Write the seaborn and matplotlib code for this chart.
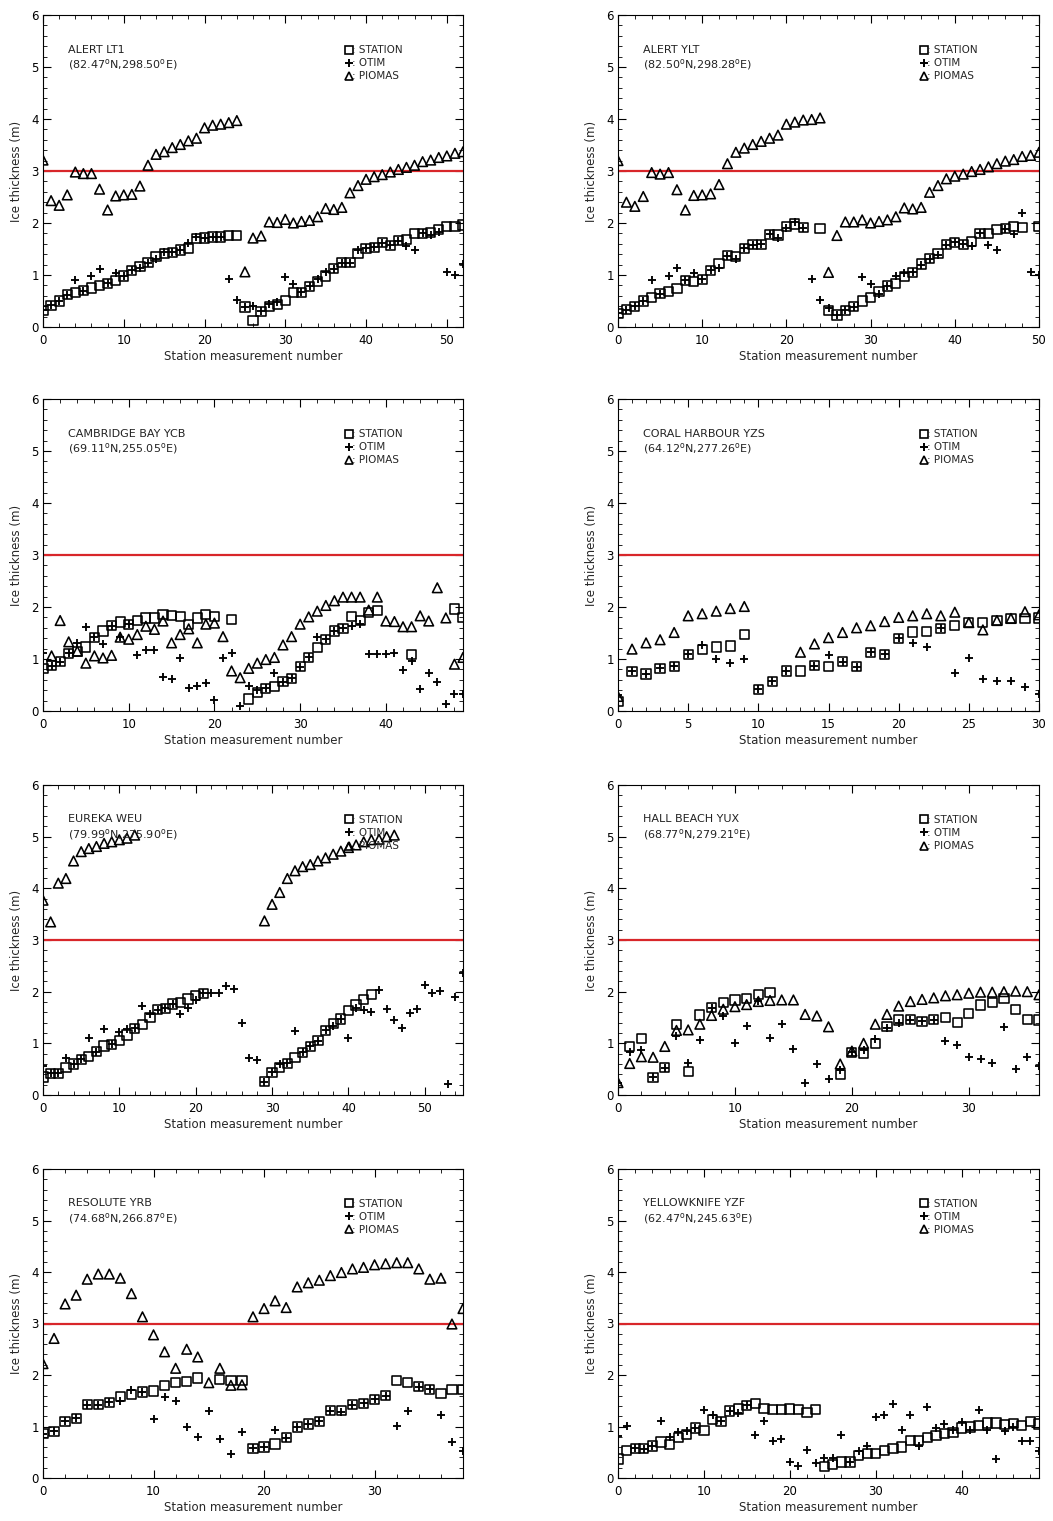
import numpy as np
import pandas as pd
import matplotlib
matplotlib.use("Agg")
import matplotlib.pyplot as plt
import seaborn as sns
from matplotlib.lines import Line2D
from matplotlib.ticker import MultipleLocator

nan = np.nan

# ---------------------------------------------------------------- stations
STATION_NAMES = ["ALERT LT1", "ALERT YLT", "CAMBRIDGE BAY YCB", "CORAL HARBOUR YZS",
                 "EUREKA WEU", "HALL BEACH YUX", "RESOLUTE YRB", "YELLOWKNIFE YZF"]
STATION_LATS = ["82.47", "82.50", "69.11", "64.12", "79.99", "68.77", "74.68", "62.47"]
STATION_LONS = ["298.50", "298.28", "255.05", "277.26", "275.90", "279.21", "266.87", "245.63"]
XTICK_STEP = [10, 10, 10, 5, 10, 10, 10, 10]

# ---------------------------------------------------------------- ice thickness (m)
ALERT_LT1_STATION = [0.32, 0.42, 0.50, 0.62, 0.66, 0.70, 0.75, 0.80, 0.84, 0.90,
                     0.98, 1.09, 1.16, 1.24, 1.35, 1.41, 1.44, 1.48, 1.51, 1.70,
                     1.71, 1.73, 1.73, 1.76, 1.76, 0.385, 0.13, 0.30, 0.40, 0.43,
                     0.51, 0.67, 0.67, 0.78, 0.87, 0.98, 1.12, 1.24, 1.24, 1.42,
                     1.51, 1.53, 1.62, 1.57, 1.66, 1.68, 1.80, 1.80, 1.81, 1.88,
                     1.93, 1.94, 1.96]
ALERT_LT1_OTIM = [0.32, 0.42, 0.50, 0.62, 0.91, 0.70, 0.98, 1.12, 0.84, 1.03,
                  0.98, 1.09, 1.14, 1.24, 1.30, 1.44, 1.44, 1.48, 1.62, 1.73,
                  1.71, 1.73, 1.73, 0.93, 0.51, 0.385, 0.40, 0.30, 0.45, 0.48,
                  0.96, 0.82, 0.67, 0.78, 0.93, 1.06, 1.12, 1.24, 1.24, 1.48,
                  1.51, 1.53, 1.62, 1.57, 1.66, 1.55, 1.48, 1.80, 1.76, 1.83,
                  1.06, 1.00, 1.22]
ALERT_LT1_PIOMAS = [3.21, 2.43, 2.34, 2.54, 2.98, 2.95, 2.95, 2.65, 2.25, 2.52,
                    2.54, 2.55, 2.71, 3.11, 3.32, 3.37, 3.45, 3.51, 3.58, 3.63,
                    3.83, 3.88, 3.90, 3.93, 3.97, 1.06, 1.71, 1.75, 2.02, 2.01,
                    2.07, 2.00, 2.03, 2.05, 2.12, 2.28, 2.26, 2.30, 2.58, 2.72,
                    2.84, 2.89, 2.93, 2.98, 3.03, 3.07, 3.11, 3.18, 3.21, 3.26,
                    3.29, 3.34, 3.37]

ALERT_YLT_STATION = [0.26, 0.33, 0.40, 0.50, 0.56, 0.64, 0.69, 0.74, 0.90, 0.87,
                     0.92, 1.09, 1.22, 1.37, 1.35, 1.51, 1.58, 1.59, 1.78, 1.77,
                     1.94, 1.98, 1.91, nan, 1.90, 0.32, 0.23, 0.32, 0.39, 0.50,
                     0.56, 0.69, 0.79, 0.84, 0.97, 1.05, 1.21, 1.32, 1.42, 1.58,
                     1.63, 1.59, 1.64, 1.80, 1.80, 1.88, 1.89, 1.94, 1.91, nan,
                     1.93]
ALERT_YLT_OTIM = [0.26, 0.33, 0.40, 0.50, 0.91, 0.64, 0.99, 1.13, 0.90, 1.04,
                  0.92, 1.09, 1.14, 1.37, 1.30, 1.51, 1.58, 1.59, 1.78, 1.72,
                  1.90, 2.01, 1.91, 0.93, 0.52, 0.37, 0.23, 0.32, 0.39, 0.97,
                  0.82, 0.64, 0.79, 0.98, 1.04, 1.05, 1.19, 1.30, 1.38, 1.58,
                  1.63, 1.59, 1.55, 1.80, 1.58, 1.48, 1.89, 1.78, 2.19, 1.05,
                  1.00]
ALERT_YLT_PIOMAS = [3.20, 2.40, 2.32, 2.51, 2.97, 2.94, 2.97, 2.64, 2.25, 2.53,
                    2.54, 2.56, 2.74, 3.14, 3.36, 3.44, 3.51, 3.57, 3.63, 3.69,
                    3.90, 3.94, 3.98, 3.99, 4.02, 1.05, 1.76, 2.02, 2.02, 2.06,
                    2.00, 2.03, 2.06, 2.12, 2.29, 2.27, 2.30, 2.59, 2.72, 2.85,
                    2.90, 2.94, 2.99, 3.03, 3.08, 3.14, 3.19, 3.22, 3.28, 3.30,
                    3.36]

CAMBRIDGE_BAY_STATION = [0.82, 0.87, 0.95, 1.11, 1.14, 1.23, 1.42, 1.54, 1.64, 1.71,
                         1.67, 1.74, 1.79, 1.79, 1.85, 1.83, 1.81, 1.67, 1.79, 1.85,
                         1.81, nan, 1.76, nan, 0.23, 0.35, 0.44, 0.47, 0.56, 0.63,
                         0.85, 1.03, 1.22, 1.38, 1.54, 1.59, 1.81, 1.74, 1.90, 1.93,
                         nan, nan, nan, 1.08, nan, nan, nan, nan, 1.96, 1.80]
CAMBRIDGE_BAY_OTIM = [1.12, 0.87, 0.95, 1.11, 1.30, 1.61, 1.42, 1.28, 1.64, 1.42,
                      1.67, 1.08, 1.17, 1.17, 0.66, 0.61, 1.01, 0.45, 0.49, 0.54,
                      0.22, 1.01, 1.12, 0.10, 0.48, 0.40, 0.44, 0.74, 0.56, 0.63,
                      0.85, 1.03, 1.42, 1.38, 1.54, 1.59, 1.64, 1.68, 1.09, 1.09,
                      1.09, 1.12, 0.79, 0.96, 0.42, 0.74, 0.56, 0.13, 0.33, 0.33]
CAMBRIDGE_BAY_PIOMAS = [nan, 1.06, 1.74, 1.33, 1.15, 0.92, 1.06, 1.02, 1.07, 1.42,
                        1.38, 1.47, 1.63, 1.57, 1.73, 1.31, 1.47, 1.58, 1.31, 1.67,
                        1.69, 1.43, 0.77, 0.64, 0.82, 0.92, 0.99, 1.03, 1.27, 1.43,
                        1.67, 1.81, 1.92, 2.03, 2.12, 2.19, 2.19, 2.19, 1.94, 2.19,
                        1.73, 1.72, 1.62, 1.62, 1.83, 1.73, 2.37, 1.79, 0.90, 1.03]

CORAL_HARBOUR_STATION = [0.18, 0.76, 0.71, 0.82, 0.86, 1.09, 1.18, 1.23, 1.25, 1.47,
                         0.42, 0.57, 0.77, 0.77, 0.87, 0.85, 0.95, 0.85, 1.13, 1.09,
                         1.40, 1.52, 1.53, 1.59, 1.65, 1.70, 1.70, 1.74, 1.78, 1.78,
                         1.79]
CORAL_HARBOUR_OTIM = [0.31, 0.76, 0.71, 0.82, 0.86, 1.09, 1.27, 1.00, 0.92, 1.00,
                      0.42, 0.57, 0.77, nan, 0.87, 1.08, 0.95, 0.85, 1.13, 1.09,
                      1.40, 1.30, 1.24, 1.59, 0.73, 1.02, 0.62, 0.58, 0.57, 0.46,
                      0.32]
CORAL_HARBOUR_PIOMAS = [0.28, 1.19, 1.31, 1.37, 1.51, 1.83, 1.87, 1.92, 1.97, 2.01,
                        nan, nan, nan, 1.13, 1.29, 1.41, 1.51, 1.60, 1.64, 1.72,
                        1.80, 1.83, 1.87, 1.83, 1.90, 1.70, 1.56, 1.74, 1.78, 1.91,
                        1.85]

EUREKA_STATION = [0.35, 0.42, 0.42, 0.53, 0.60, 0.69, 0.75, 0.84, 0.95, 0.98,
                  1.05, 1.16, 1.29, 1.37, 1.50, 1.65, 1.68, 1.76, 1.79, 1.86,
                  1.92, 1.97, nan, nan, nan, nan, nan, nan, nan, 0.26,
                  0.44, 0.53, 0.61, 0.72, 0.83, 0.94, 1.05, 1.25, 1.39, 1.47,
                  1.63, 1.74, 1.85, 1.95, nan, nan, nan, nan, nan, nan,
                  nan, nan, nan, nan, nan, nan]
EUREKA_OTIM = [0.56, 0.42, 0.42, 0.71, 0.60, 0.69, 1.10, 0.84, 1.27, 0.98,
               1.21, 1.27, 1.29, 1.72, 1.56, 1.65, 1.68, 1.76, 1.56, 1.69,
               1.84, 1.97, 1.98, 1.98, 2.11, 2.06, 1.39, 0.72, 0.68, 0.26,
               0.44, 0.60, 0.61, 1.23, 0.83, 0.94, 1.05, 1.25, 1.34, 1.47,
               1.10, 1.69, 1.65, 1.60, 2.03, 1.66, 1.46, 1.29, 1.58, 1.66,
               2.13, 1.97, 2.01, 0.21, 1.90, 2.37]
EUREKA_PIOMAS = [3.77, 3.35, 4.10, 4.19, 4.53, 4.71, 4.77, 4.81, 4.87, 4.90,
                 4.94, 4.97, 5.03, nan, nan, nan, nan, nan, nan, nan,
                 nan, nan, nan, nan, nan, nan, nan, nan, nan, 3.37,
                 3.69, 3.92, 4.19, 4.34, 4.42, 4.46, 4.53, 4.59, 4.66, 4.72,
                 4.79, 4.84, 4.90, 4.94, 4.95, 5.00, 5.03, nan, nan, nan,
                 nan, nan, nan, nan, nan, nan]

HALL_BEACH_STATION = [nan, 0.94, 1.10, 0.34, 0.53, 1.37, 0.45, 1.55, 1.69, 1.79,
                      1.84, 1.87, 1.94, 1.99, nan, nan, nan, nan, nan, 0.39,
                      0.83, 0.81, 1.00, 1.32, 1.45, 1.46, 1.43, 1.46, 1.50, 1.40,
                      1.58, 1.74, 1.79, 1.87, 1.65, 1.46, 1.45]
HALL_BEACH_OTIM = [0.24, 0.84, 0.87, 0.34, 0.53, 1.14, 0.61, 1.06, 1.69, 1.52,
                   1.00, 1.34, 1.81, 1.10, 1.37, 0.90, 0.23, 0.60, 0.31, 0.48,
                   0.83, 0.88, 1.08, 1.29, 1.39, 1.46, 1.43, 1.46, 1.05, 0.97,
                   0.73, 0.69, 0.61, 1.32, 0.50, 0.74, 0.57]
HALL_BEACH_PIOMAS = [0.24, 0.61, 0.74, 0.73, 0.94, 1.25, 1.26, 1.37, 1.54, 1.66,
                     1.71, 1.75, 1.81, 1.83, 1.84, 1.84, 1.56, 1.53, 1.32, 0.60,
                     0.85, 1.00, 1.37, 1.56, 1.72, 1.81, 1.85, 1.88, 1.92, 1.94,
                     1.97, 1.99, 1.99, 2.00, 2.01, 2.00, 1.94]

RESOLUTE_STATION = [0.86, 0.91, 1.10, 1.16, 1.42, 1.42, 1.47, 1.59, 1.62, 1.67,
                    1.69, 1.79, 1.85, 1.87, 1.94, nan, 1.92, 1.90, 1.90, 0.58,
                    0.60, 0.66, 0.78, 0.99, 1.05, 1.10, 1.31, 1.31, 1.42, 1.45,
                    1.53, 1.60, 1.90, 1.85, 1.77, 1.72, 1.64, 1.72, 1.72]
RESOLUTE_OTIM = [0.86, 0.91, 1.10, 1.16, 1.42, 1.42, 1.47, 1.49, 1.70, 1.67,
                 1.15, 1.58, 1.49, 0.99, 0.79, 1.31, 0.75, 0.47, 0.90, 0.58,
                 0.60, 0.94, 0.78, 0.99, 1.05, 1.10, 1.31, 1.28, 1.42, 1.45,
                 1.53, 1.60, 1.01, 1.30, 1.77, 1.72, 1.22, 0.69, 0.52]
RESOLUTE_PIOMAS = [2.22, 2.71, 3.38, 3.55, 3.86, 3.96, 3.96, 3.88, 3.58, 3.13,
                   2.78, 2.45, 2.13, 2.50, 2.35, 1.85, 2.13, 1.80, 1.81, 3.13,
                   3.29, 3.44, 3.31, 3.71, 3.79, 3.84, 3.93, 3.99, 4.06, 4.09,
                   4.14, 4.16, 4.18, 4.18, 4.06, 3.86, 3.88, 2.99, 3.29]

YELLOWKNIFE_STATION = [0.37, 0.54, 0.58, 0.57, 0.62, 0.70, 0.65, 0.79, 0.84, 0.97,
                       0.92, 1.14, 1.10, 1.30, 1.34, 1.41, 1.44, 1.35, 1.33, 1.33,
                       1.34, 1.33, 1.27, 1.33, 0.23, 0.26, 0.31, 0.31, 0.44, 0.47,
                       0.47, 0.54, 0.58, 0.60, 0.73, 0.73, 0.78, 0.83, 0.86, 0.88,
                       0.97, 0.99, 1.02, 1.07, 1.07, 1.04, 1.06, 1.02, 1.10, 1.05]
YELLOWKNIFE_OTIM = [0.81, 1.01, 0.58, 0.57, 0.62, 1.10, 0.79, 0.89, 0.92, 0.97,
                    1.33, 1.23, 1.10, 1.30, 1.27, 1.41, 0.84, 1.10, 0.71, 0.76,
                    0.31, 0.24, 0.54, 0.29, 0.39, 0.39, 0.83, 0.31, 0.53, 0.62,
                    1.19, 1.23, 1.44, 0.93, 1.23, 0.63, 1.38, 0.97, 1.04, 0.93,
                    1.09, 0.93, 1.33, 0.94, 0.36, 0.92, 0.99, 0.71, 0.71, 0.52]
YELLOWKNIFE_PIOMAS = [nan] * 50

SERIES = [
    (ALERT_LT1_STATION, ALERT_LT1_OTIM, ALERT_LT1_PIOMAS),
    (ALERT_YLT_STATION, ALERT_YLT_OTIM, ALERT_YLT_PIOMAS),
    (CAMBRIDGE_BAY_STATION, CAMBRIDGE_BAY_OTIM, CAMBRIDGE_BAY_PIOMAS),
    (CORAL_HARBOUR_STATION, CORAL_HARBOUR_OTIM, CORAL_HARBOUR_PIOMAS),
    (EUREKA_STATION, EUREKA_OTIM, EUREKA_PIOMAS),
    (HALL_BEACH_STATION, HALL_BEACH_OTIM, HALL_BEACH_PIOMAS),
    (RESOLUTE_STATION, RESOLUTE_OTIM, RESOLUTE_PIOMAS),
    (YELLOWKNIFE_STATION, YELLOWKNIFE_OTIM, YELLOWKNIFE_PIOMAS),
]

THRESHOLD = 3.0

# ---------------------------------------------------------------- style
sns.set_style("ticks")
plt.rcParams["font.family"] = ["DejaVu Sans"]
plt.rcParams["axes.linewidth"] = 0.8
plt.rcParams["mathtext.default"] = "regular"

W, H = 1053, 1521
fig = plt.figure(figsize=(W / 100, H / 100), dpi=100)
fig.patch.set_facecolor("white")

COL_X = [(43, 463), (618, 1039)]
ROW_Y = [(15, 327), (399, 711), (785, 1095), (1169, 1478)]

sq_kw = dict(marker="s", s=44, facecolor="none", edgecolor="black", linewidth=1.15)
pl_kw = dict(marker="+", s=38, color="black", linewidth=1.35)
tr_kw = dict(marker="^", s=48, facecolor="none", edgecolor="black", linewidth=1.15)

for i, (name, lat, lon, step, (st, ot, pi)) in enumerate(
        zip(STATION_NAMES, STATION_LATS, STATION_LONS, XTICK_STEP, SERIES)):
    r, c = divmod(i, 2)
    x0, x1 = COL_X[c]
    ytop, ybot = ROW_Y[r]
    ax = fig.add_axes([x0 / W, 1 - ybot / H, (x1 - x0) / W, (ybot - ytop) / H])

    n = len(st)
    df = pd.DataFrame({"n": np.arange(n), "STATION": st, "OTIM": ot, "PIOMAS": pi})

    ax.axhline(THRESHOLD, color="#d8262a", lw=1.6, zorder=1)
    sns.scatterplot(data=df, x="n", y="STATION", ax=ax, zorder=3, **sq_kw)
    sns.scatterplot(data=df, x="n", y="OTIM", ax=ax, zorder=3, **pl_kw)
    if df["PIOMAS"].notna().any():
        sns.scatterplot(data=df, x="n", y="PIOMAS", ax=ax, zorder=3, **tr_kw)

    ax.set_xlim(0, n - 1)
    ax.set_ylim(0, 6)
    ax.xaxis.set_major_locator(MultipleLocator(step))
    ax.xaxis.set_minor_locator(MultipleLocator(step / 5))
    ax.yaxis.set_major_locator(MultipleLocator(1))
    ax.yaxis.set_minor_locator(MultipleLocator(0.2))
    ax.tick_params(which="both", direction="in", top=True, right=True,
                   colors="black")
    ax.tick_params(which="major", length=6, width=0.8, labelsize=8.5)
    ax.tick_params(which="minor", length=3, width=0.6)
    ax.tick_params(axis="x", which="major", pad=5)
    ax.tick_params(axis="y", which="major", pad=3)
    for sp in ax.spines.values():
        sp.set_color("black")
        sp.set_linewidth(0.8)

    ax.set_xlabel("Station measurement number", fontsize=8.5, labelpad=2)
    ax.set_ylabel("Ice thickness (m)", fontsize=8.5, labelpad=6)

    ax.text(0.06, 0.905,
            f"{name}\n({lat}$^o$N,{lon}$^o$E)",
            transform=ax.transAxes, fontsize=8, va="top", ha="left",
            linespacing=1.25, color="#222222")

    handles = [
        Line2D([], [], ls="none", marker="s", ms=5.5, mfc="none", mec="black", mew=1.2),
        Line2D([], [], ls="none", marker="+", ms=5.5, color="black", mew=1.4),
        Line2D([], [], ls="none", marker="^", ms=5.5, mfc="none", mec="black", mew=1.2),
    ]
    ax.legend(handles, [": STATION", ": OTIM", ": PIOMAS"],
              loc="upper left", bbox_to_anchor=(0.715, 0.91),
              frameon=False, fontsize=7.5, handlelength=0.6,
              handletextpad=0.0, labelspacing=0.3, borderpad=0.2,
              borderaxespad=0.0)

fig.savefig("out.png", dpi=100, facecolor="white")
